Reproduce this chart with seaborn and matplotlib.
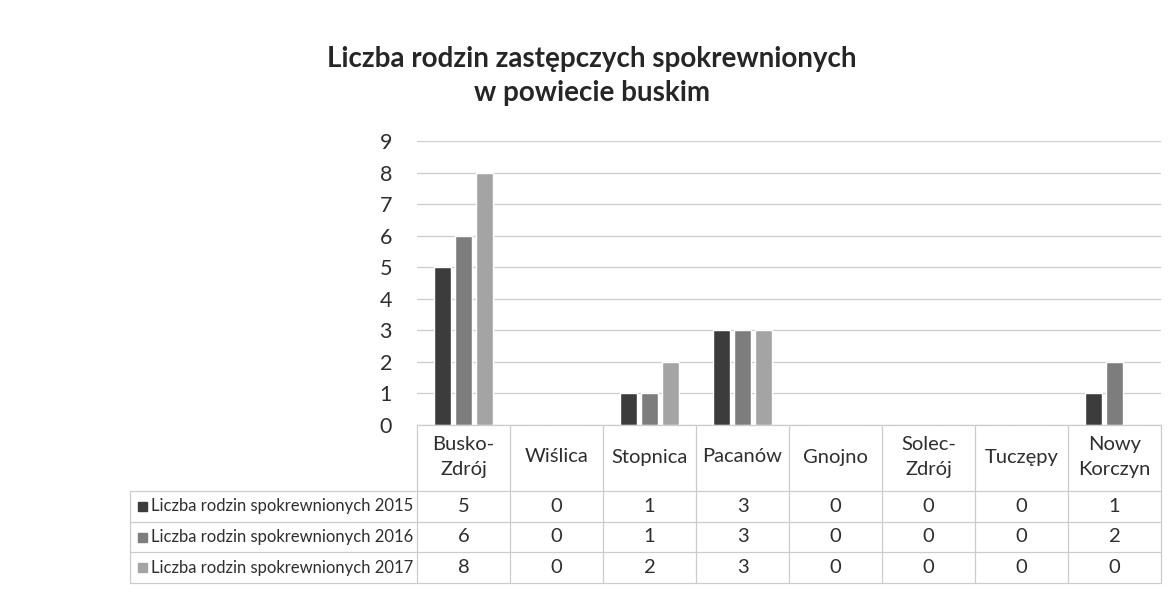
import matplotlib
matplotlib.use("Agg")
import matplotlib.pyplot as plt
import seaborn as sns
import pandas as pd
from matplotlib.transforms import blended_transform_factory
from matplotlib.lines import Line2D
from matplotlib.patches import Rectangle

# ---- data ----
categories = ["Busko-\nZdrój", "Wiślica", "Stopnica", "Pacanów", "Gnojno",
              "Solec-\nZdrój", "Tuczępy", "Nowy\nKorczyn"]
series_names = ["Liczba rodzin spokrewnionych 2015",
                "Liczba rodzin spokrewnionych 2016",
                "Liczba rodzin spokrewnionych 2017"]
values_2015 = [5, 0, 1, 3, 0, 0, 0, 1]
values_2016 = [6, 0, 1, 3, 0, 0, 0, 2]
values_2017 = [8, 0, 2, 3, 0, 0, 0, 0]
yticks = list(range(10))
title = "Liczba rodzin zastępczych spokrewnionych\nw powiecie buskim"

colors = ["#3c3c3c", "#7d7d7d", "#a4a4a4"]
text_color = "#2e2e2e"
line_color = "#cccccc"

sns.set_theme(style="white")
plt.rcParams['font.family'] = ['Lato', 'DejaVu Sans']

W, H = 1176, 605
fig = plt.figure(figsize=(W / 100, H / 100), dpi=100)
fig.patch.set_facecolor("white")


def fx(px):
    return px / W


def fy(py):
    return 1 - py / H


ax = fig.add_axes([fx(417), fy(425), fx(1161) - fx(417), fy(141) - fy(425)])

all_values = [values_2015, values_2016, values_2017]
df = pd.DataFrame({
    "Gmina": categories * 3,
    "Seria": [s for s in series_names for _ in categories],
    "Liczba": values_2015 + values_2016 + values_2017,
})
sns.barplot(data=df, x="Gmina", y="Liczba", hue="Seria", palette=colors,
            width=0.68, gap=0.2, saturation=1, legend=False, ax=ax,
            errorbar=None)

ax.set_xlim(-0.5, len(categories) - 0.5)
ax.set_ylim(0, 9)
ax.set_yticks(yticks)
ax.set_yticklabels([str(t) for t in yticks], fontsize=15.5, color=text_color)
ax.tick_params(axis="y", length=0, pad=18)
ax.set_xticks(range(len(categories)))
ax.set_xticklabels([""] * len(categories))
ax.tick_params(axis="x", length=0)
ax.set_xlabel("")
ax.set_ylabel("")
ax.yaxis.grid(True, color=line_color, lw=0.9)
ax.set_axisbelow(True)
for s in ax.spines.values():
    s.set_visible(False)

# title
fig.text(fx(592), fy(76), title, ha="center", va="center", fontsize=20,
         fontweight="bold", color="#262626", linespacing=1.42)

# ---- data table ----
tr = blended_transform_factory(ax.transData, fig.transFigure)
x_left_tab = fx(130)
x_plot_l = fx(417)
x_plot_r = fx(1161)
row_bounds = [491, 522, 552, 583]


def hline(py, x0, x1):
    fig.add_artist(Line2D([x0, x1], [fy(py), fy(py)], color=line_color,
                          lw=0.9, transform=fig.transFigure))


def vline(px, py0, py1):
    fig.add_artist(Line2D([fx(px), fx(px)], [fy(py0), fy(py1)],
                          color=line_color, lw=0.9, transform=fig.transFigure))


hline(425, x_plot_l, x_plot_r)
for b in row_bounds:
    hline(b, x_left_tab, x_plot_r)
vline(130, row_bounds[0], row_bounds[-1])
col_w = (1161 - 417) / len(categories)
for k in range(len(categories) + 1):
    vline(417 + k * col_w, 425, row_bounds[-1])

for i, cat in enumerate(categories):
    fig.text(i, fy(457), cat, transform=tr, ha="center", va="center",
             fontsize=14.5, color=text_color, linespacing=1.55)

for r, (name, vals, col) in enumerate(zip(series_names, all_values, colors)):
    yc = (row_bounds[r] + row_bounds[r + 1]) / 2
    fig.add_artist(Rectangle((fx(138), fy(yc + 4.5)), fx(9), 9 / H,
                             color=col, transform=fig.transFigure))
    fig.text(fx(151), fy(yc), name, ha="left", va="center", fontsize=12,
             color=text_color)
    for i, v in enumerate(vals):
        fig.text(i, fy(yc), str(v), transform=tr, ha="center", va="center",
                 fontsize=14.5, color=text_color)

fig.savefig("out.png", dpi=100, facecolor="white")
